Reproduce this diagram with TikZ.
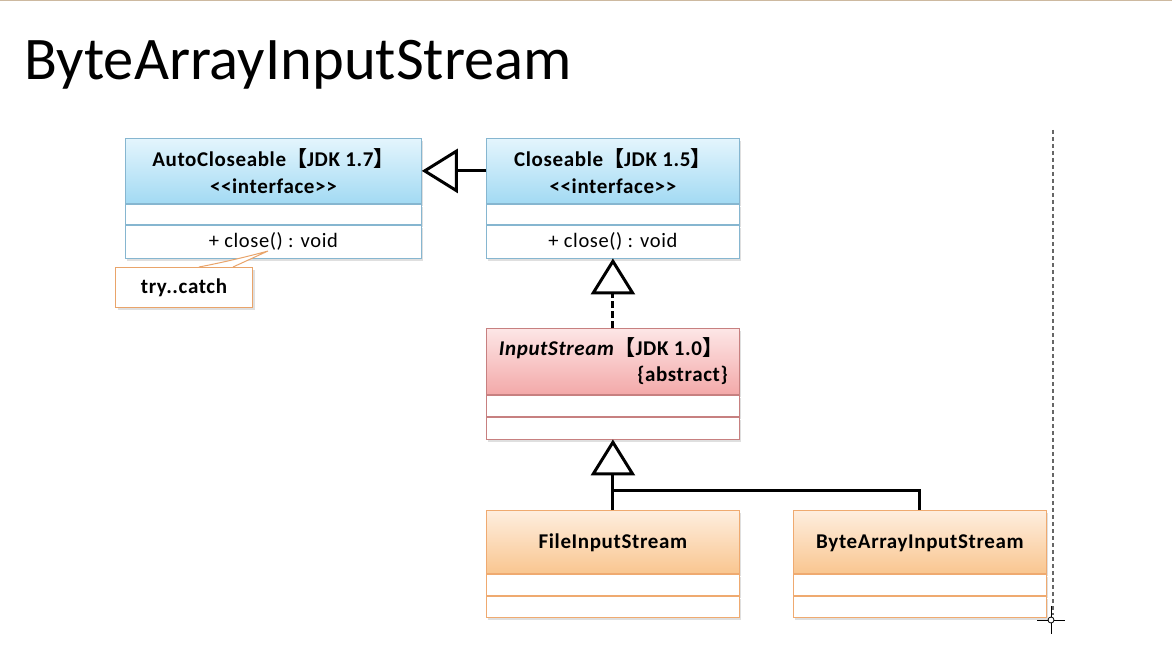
\documentclass[tikz,border=0pt]{standalone}
\usepackage{fontspec}
\setmainfont{Carlito}
\newfontfamily\boxfont[LetterSpace=3]{Carlito}
\newfontfamily\cjk{Noto Sans CJK SC}
\usetikzlibrary{arrows.meta,shadows,positioning}
\newcommand{\lbr}{{\cjk 【}}
\newcommand{\rbr}{{\cjk 】}}
\definecolor{bluetop}{HTML}{E4F5FD}
\definecolor{bluebot}{HTML}{A3DAF3}
\definecolor{blueline}{HTML}{86B6D0}
\definecolor{redtop}{HTML}{FDE6E6}
\definecolor{redbot}{HTML}{F3A9A9}
\definecolor{redline}{HTML}{C78080}
\definecolor{ortop}{HTML}{FEEEDF}
\definecolor{orbot}{HTML}{F9C690}
\definecolor{orline}{HTML}{EFAA70}
\definecolor{noteline}{HTML}{E9A46A}
\tikzset{
  shd/.style={drop shadow={shadow xshift=2pt,shadow yshift=-2.5pt,opacity=0.25}},
  hdr/.style={draw, line width=0.8pt, anchor=north west, inner sep=0pt, shd},
  hblue/.style={hdr, draw=blueline, top color=bluetop, bottom color=bluebot},
  hred/.style={hdr, draw=redline, top color=redtop, bottom color=redbot},
  hor/.style={hdr, draw=orline, top color=ortop, bottom color=orbot},
  comp/.style={draw, line width=0.8pt, fill=white, anchor=north, inner sep=0pt, shd, font=\boxfont\fontsize{20.5}{22}\selectfont},
  cls/.style={font=\boxfont\bfseries\fontsize{21}{27}\selectfont, align=center, inner sep=0pt},
  gen/.style={line width=3pt, -{Triangle[open, length=36pt, width=44pt, line width=3pt]}},
  real/.style={gen, dash pattern=on 7pt off 3pt},
  plain/.style={line width=3pt},
}
\begin{document}
\begin{tikzpicture}[x=1pt,y=-1pt]
\useasboundingbox (0,0) rectangle (1172,647);
\fill[white] (0,0) rectangle (1172,647);
\draw[draw={rgb,255:red,205;green,185;blue,160}, line width=1.5pt] (0,0.75) -- (1172,0.75);
\node[anchor=base west, inner sep=0pt, font=\fontsize{60.5}{64}\selectfont] (title) at (24,80) {ByteArrayInputStream};

% AutoCloseable
\node[hblue, minimum width=296pt, minimum height=65pt] (autoH) at (125,138) {};
\node[comp, draw=blueline, minimum width=296pt, minimum height=20pt] (autoA) at (autoH.south) {};
\node[comp, draw=blueline, minimum width=296pt, minimum height=33pt] (autoM) at (autoA.south) {+ close() : void};
\node[cls] (autoT) at (autoH.center) {AutoCloseable\lbr JDK 1.7\rbr\\{<}{<}interface{>}{>}};

% Closeable
\node[hblue, minimum width=253pt, minimum height=65pt] (closH) at (486,138) {};
\node[comp, draw=blueline, minimum width=253pt, minimum height=20pt] (closA) at (closH.south) {};
\node[comp, draw=blueline, minimum width=253pt, minimum height=33pt] (closM) at (closA.south) {+ close() : void};
\node[cls] (closT) at (closH.center) {Closeable\lbr JDK 1.5\rbr\\{<}{<}interface{>}{>}};

% InputStream
\node[hred, minimum width=253pt, minimum height=66pt] (inH) at (486,328) {};
\node[comp, draw=redline, minimum width=253pt, minimum height=21pt] (inA) at (inH.south) {};
\node[comp, draw=redline, minimum width=253pt, minimum height=22pt] (inB) at (inA.south) {};
\node[cls, anchor=center] (inT) at (611,348) {\textit{InputStream}\lbr JDK 1.0\rbr};
\node[cls, anchor=east] (inS) at (728,375) {\{abstract\}};

% FileInputStream
\node[hor, minimum width=253pt, minimum height=63pt] (fisH) at (486,510) {};
\node[comp, draw=orline, minimum width=253pt, minimum height=21pt] (fisA) at (fisH.south) {};
\node[comp, draw=orline, minimum width=253pt, minimum height=21pt] (fisB) at (fisA.south) {};
\node[cls] (fisT) at ([yshift=-1pt]fisH.center) {FileInputStream};

% ByteArrayInputStream
\node[hor, minimum width=253pt, minimum height=63pt] (baisH) at (793,510) {};
\node[comp, draw=orline, minimum width=253pt, minimum height=21pt] (baisA) at (baisH.south) {};
\node[comp, draw=orline, minimum width=253pt, minimum height=21pt] (baisB) at (baisA.south) {};
\node[cls] (baisT) at ([yshift=-1pt]baisH.center) {ByteArrayInputStream};

% note
\node[draw=noteline, line width=1pt, fill=white, anchor=north west, minimum width=137pt, minimum height=40pt,
      font=\boxfont\bfseries\fontsize{21}{22}\selectfont, shd] (note) at (115,267) {try..catch};
\coordinate (tip) at (268,251);
\fill[white] (199,266.5) .. controls (225,262) and (250,256) .. (tip) -- (233,266.5) -- cycle;
\draw[draw=noteline, line width=1pt] (199,267) .. controls (225,262) and (250,256) .. (tip) -- (233,267);

% connectors
\draw[gen] (closH.west) -- (autoH.east);
\draw[real] (inH.north) -- (closM.south);
\coordinate (junc) at (612,490);
\draw[gen] (fisH.north) -- (inB.south);
\draw[plain] (baisH.north) |- (junc);

% dashed guide + cursor
\draw[gray!80!black, line width=1.2pt, dash pattern=on 4pt off 3pt] (1053,130) -- (1053,615);
\node[draw, circle, line width=0.8pt, fill=white, inner sep=0pt, minimum size=6pt] (cur) at (1051,620) {};
\draw[line width=1pt] (1037,620) -- (cur.west) (cur.east) -- (1065,620) (1051,606) -- (cur.north) (cur.south) -- (1051,634);
\end{tikzpicture}
\end{document}
